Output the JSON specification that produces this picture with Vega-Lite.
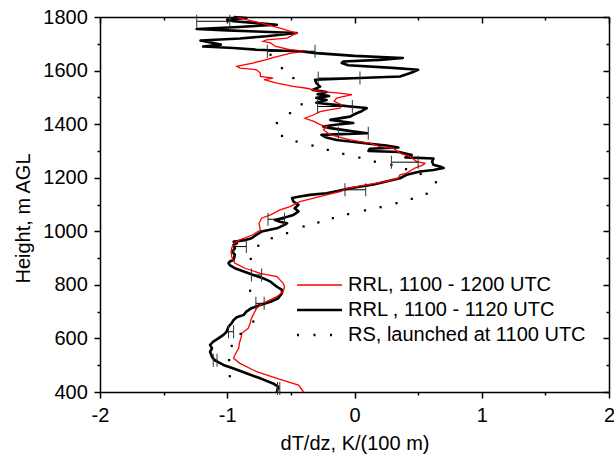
{
 "$schema": "https://vega.github.io/schema/vega-lite/v6.json",
 "width": 509,
 "height": 375,
 "autosize": {"type": "none"},
 "padding": {"left": 100, "top": 17, "right": 5, "bottom": 64},
 "config": {
  "font": "Liberation Sans",
  "view": {"stroke": null},
  "axis": {"grid": false, "domainColor": "#000", "tickColor": "#000", "labelColor": "#000", "titleColor": "#000", "domainWidth": 1.5, "tickWidth": 1.5, "labelFontSize": 20, "titleFontSize": 20, "titleFontWeight": "normal", "labelFont": "Liberation Sans", "titleFont": "Liberation Sans", "labelFlush": false, "labelOverlap": false, "labelBound": false}
 },
 "datasets": {
  "black": [
   {"h":400,"g":-0.61},{"h":420,"g":-0.60},{"h":432,"g":-0.64},{"h":451,"g":-0.74},{"h":470,"g":-0.85},{"h":488,"g":-0.95},{"h":501,"g":-1.03},{"h":519,"g":-1.10},{"h":532,"g":-1.12},{"h":550,"g":-1.135},{"h":563,"g":-1.12},{"h":576,"g":-1.135},{"h":588,"g":-1.11},{"h":600,"g":-1.07},{"h":613,"g":-1.03},{"h":625,"g":-1.005},{"h":644,"g":-0.99},{"h":657,"g":-0.965},{"h":669,"g":-0.95},{"h":679,"g":-0.925},{"h":688,"g":-0.87},{"h":700,"g":-0.85},{"h":713,"g":-0.81},{"h":725,"g":-0.74},{"h":737,"g":-0.66},{"h":750,"g":-0.60},{"h":769,"g":-0.57},{"h":781,"g":-0.57},{"h":793,"g":-0.61},{"h":812,"g":-0.66},{"h":825,"g":-0.72},{"h":837,"g":-0.795},{"h":850,"g":-0.87},{"h":862,"g":-0.94},{"h":874,"g":-0.98},{"h":881,"g":-0.99},{"h":887,"g":-0.98},{"h":893,"g":-0.95},{"h":912,"g":-0.94},{"h":924,"g":-0.96},{"h":937,"g":-0.94},{"h":949,"g":-0.95},{"h":955,"g":-0.925},{"h":961,"g":-0.95},{"h":968,"g":-0.85},{"h":974,"g":-0.81},{"h":987,"g":-0.77},{"h":999,"g":-0.73},{"h":1011,"g":-0.61},{"h":1024,"g":-0.55},{"h":1030,"g":-0.53},{"h":1036,"g":-0.585},{"h":1042,"g":-0.625},{"h":1055,"g":-0.52},{"h":1061,"g":-0.48},{"h":1074,"g":-0.44},{"h":1086,"g":-0.47},{"h":1099,"g":-0.44},{"h":1111,"g":-0.48},{"h":1124,"g":-0.49},{"h":1130,"g":-0.43},{"h":1136,"g":-0.35},{"h":1142,"g":-0.22},{"h":1152,"g":-0.114},{"h":1161,"g":-0.035},{"h":1167,"g":0.05},{"h":1175,"g":0.15},{"h":1186,"g":0.25},{"h":1198,"g":0.357},{"h":1211,"g":0.41},{"h":1223,"g":0.515},{"h":1229,"g":0.62},{"h":1236,"g":0.70},{"h":1242,"g":0.67},{"h":1248,"g":0.62},{"h":1260,"g":0.61},{"h":1272,"g":0.62},{"h":1276,"g":0.40},{"h":1285,"g":0.45},{"h":1296,"g":0.35},{"h":1300,"g":0.11},{"h":1308,"g":0.12},{"h":1313,"g":0.345},{"h":1320,"g":0.25},{"h":1328,"g":0.10},{"h":1335,"g":-0.035},{"h":1341,"g":-0.14},{"h":1350,"g":-0.22},{"h":1360,"g":-0.26},{"h":1366,"g":0.10},{"h":1372,"g":0.00},{"h":1385,"g":-0.19},{"h":1391,"g":-0.245},{"h":1398,"g":-0.15},{"h":1404,"g":-0.01},{"h":1410,"g":-0.10},{"h":1416,"g":-0.19},{"h":1428,"g":-0.035},{"h":1435,"g":-0.01},{"h":1447,"g":0.05},{"h":1460,"g":0.096},{"h":1466,"g":-0.035},{"h":1472,"g":-0.15},{"h":1480,"g":-0.30},{"h":1490,"g":-0.22},{"h":1498,"g":-0.30},{"h":1505,"g":-0.20},{"h":1512,"g":-0.29},{"h":1520,"g":-0.22},{"h":1528,"g":-0.33},{"h":1540,"g":-0.27},{"h":1553,"g":-0.30},{"h":1566,"g":-0.31},{"h":1572,"g":0.04},{"h":1578,"g":0.357},{"h":1591,"g":0.44},{"h":1603,"g":0.50},{"h":1610,"g":0.30},{"h":1620,"g":-0.05},{"h":1628,"g":-0.10},{"h":1634,"g":-0.09},{"h":1640,"g":0.20},{"h":1647,"g":0.38},{"h":1655,"g":0.00},{"h":1665,"g":-0.30},{"h":1672,"g":-0.43},{"h":1678,"g":-0.77},{"h":1684,"g":-0.95},{"h":1690,"g":-1.19},{"h":1697,"g":-1.05},{"h":1703,"g":-1.11},{"h":1712,"g":-1.21},{"h":1720,"g":-0.90},{"h":1728,"g":-0.69},{"h":1740,"g":-0.455},{"h":1746,"g":-0.77},{"h":1750,"g":-1.00},{"h":1755,"g":-1.24},{"h":1762,"g":-0.95},{"h":1771,"g":-0.61},{"h":1778,"g":-0.79},{"h":1784,"g":-0.95},{"h":1790,"g":-1.00},{"h":1796,"g":-0.85},{"h":1800,"g":-0.95}
  ],
  "red": [
   {"h":400,"g":-0.40},{"h":426,"g":-0.44},{"h":451,"g":-0.61},{"h":476,"g":-0.77},{"h":507,"g":-0.90},{"h":526,"g":-0.95},{"h":538,"g":-0.94},{"h":563,"g":-0.91},{"h":582,"g":-0.905},{"h":606,"g":-0.89},{"h":619,"g":-0.886},{"h":638,"g":-0.835},{"h":657,"g":-0.82},{"h":675,"g":-0.81},{"h":713,"g":-0.77},{"h":731,"g":-0.72},{"h":756,"g":-0.61},{"h":775,"g":-0.56},{"h":793,"g":-0.55},{"h":806,"g":-0.56},{"h":831,"g":-0.61},{"h":843,"g":-0.74},{"h":862,"g":-0.86},{"h":881,"g":-0.94},{"h":905,"g":-0.965},{"h":924,"g":-0.97},{"h":937,"g":-0.965},{"h":955,"g":-0.95},{"h":968,"g":-0.90},{"h":987,"g":-0.80},{"h":1005,"g":-0.74},{"h":1030,"g":-0.75},{"h":1049,"g":-0.73},{"h":1061,"g":-0.66},{"h":1080,"g":-0.585},{"h":1092,"g":-0.507},{"h":1111,"g":-0.43},{"h":1124,"g":-0.32},{"h":1136,"g":-0.22},{"h":1148,"g":-0.114},{"h":1161,"g":-0.05},{"h":1173,"g":0.096},{"h":1186,"g":0.253},{"h":1198,"g":0.344},{"h":1211,"g":0.357},{"h":1217,"g":0.41},{"h":1236,"g":0.475},{"h":1248,"g":0.54},{"h":1254,"g":0.554},{"h":1260,"g":0.489},{"h":1279,"g":0.436},{"h":1292,"g":0.357},{"h":1310,"g":0.305},{"h":1316,"g":0.2},{"h":1329,"g":0.12},{"h":1341,"g":-0.035},{"h":1354,"g":-0.14},{"h":1360,"g":-0.19},{"h":1379,"g":-0.245},{"h":1391,"g":-0.22},{"h":1398,"g":-0.27},{"h":1410,"g":-0.32},{"h":1422,"g":-0.39},{"h":1435,"g":-0.32},{"h":1447,"g":-0.27},{"h":1454,"g":-0.19},{"h":1460,"g":-0.114},{"h":1472,"g":-0.10},{"h":1485,"g":-0.16},{"h":1497,"g":-0.14},{"h":1510,"g":-0.02},{"h":1516,"g":-0.12},{"h":1522,"g":-0.27},{"h":1534,"g":-0.376},{"h":1541,"g":-0.48},{"h":1553,"g":-0.61},{"h":1566,"g":-0.71},{"h":1572,"g":-0.64},{"h":1578,"g":-0.74},{"h":1591,"g":-0.74},{"h":1603,"g":-0.77},{"h":1609,"g":-0.90},{"h":1616,"g":-0.925},{"h":1628,"g":-0.80},{"h":1640,"g":-0.70},{"h":1648,"g":-0.64},{"h":1665,"g":-0.50},{"h":1672,"g":-0.376},{"h":1678,"g":-0.507},{"h":1690,"g":-0.62},{"h":1703,"g":-0.66},{"h":1709,"g":-0.72},{"h":1715,"g":-0.69},{"h":1721,"g":-0.53},{"h":1740,"g":-0.455},{"h":1760,"g":-0.60},{"h":1778,"g":-0.74},{"h":1790,"g":-0.85},{"h":1798,"g":-0.92}
  ],
  "rs": [
   {"h":459,"g":-0.98},{"h":519,"g":-0.985},{"h":572,"g":-0.965},{"h":617,"g":-0.895},{"h":663,"g":-0.795},{"h":778,"g":-0.82},{"h":897,"g":-0.815},{"h":946,"g":-0.756},{"h":974,"g":-0.65},{"h":993,"g":-0.53},{"h":1018,"g":-0.40},{"h":1033,"g":-0.284},{"h":1049,"g":-0.17},{"h":1064,"g":-0.05},{"h":1078,"g":0.083},{"h":1090,"g":0.205},{"h":1105,"g":0.33},{"h":1121,"g":0.45},{"h":1140,"g":0.567},{"h":1183,"g":0.64},{"h":1214,"g":0.52},{"h":1232,"g":0.405},{"h":1248,"g":0.29},{"h":1260,"g":0.16},{"h":1275,"g":0.038},{"h":1289,"g":-0.088},{"h":1304,"g":-0.21},{"h":1320,"g":-0.33},{"h":1335,"g":-0.455},{"h":1356,"g":-0.57},{"h":1404,"g":-0.61},{"h":1441,"g":-0.507},{"h":1474,"g":-0.415},{"h":1572,"g":-0.48},{"h":1609,"g":-0.57},{"h":1659,"g":-0.66}
  ],
  "err": [
   {"h":1784,"lo":-1.24,"hi":-0.98},{"h":1672,"lo":-0.685,"hi":-0.31},{"h":1572,"lo":-0.285,"hi":0.043},{"h":1466,"lo":-0.29,"hi":-0.017},{"h":1366,"lo":-0.127,"hi":0.108},{"h":1258,"lo":0.29,"hi":0.50},{"h":1155,"lo":-0.075,"hi":0.088},{"h":1045,"lo":-0.68,"hi":-0.55},{"h":943,"lo":-0.95,"hi":-0.85},{"h":837,"lo":-0.81,"hi":-0.73},{"h":731,"lo":-0.775,"hi":-0.71},{"h":625,"lo":-0.99,"hi":-0.95},{"h":519,"lo":-1.11,"hi":-1.08},{"h":413,"lo":-0.605,"hi":-0.587}
  ]
 },
 "layer": [
  {
   "data": {"name": "black"},
   "mark": {"type": "line", "strokeWidth": 2.6, "strokeJoin": "round"},
   "encoding": {
    "x": {"field": "g", "type": "quantitative", "scale": {"domain": [-2, 2], "nice": false, "zero": false},
     "axis": {"orient": "bottom", "values": [-2, -1, 0, 1, 2], "tickSize": 6, "labelPadding": 7, "labelExpr": "'' + datum.value", "title": "dT/dz, K/(100 m)", "titleX": 254.5, "titleY": 41.5, "titleBaseline": "top", "titleAlign": "center", "titleAngle": 0}},
    "y": {"field": "h", "type": "quantitative", "scale": {"domain": [400, 1800], "nice": false, "zero": false},
     "axis": {"orient": "left", "values": [400, 600, 800, 1000, 1200, 1400, 1600, 1800], "tickSize": 6, "labelPadding": 6.7, "format": "d", "title": "Height, m AGL", "titleX": -66.5, "titleY": 201, "titleAngle": 270, "titleBaseline": "bottom", "titleAlign": "center"}},
    "order": {"field": "h", "type": "quantitative"},
    "color": {"datum": "RRL , 1100 - 1120 UTC", "type": "nominal",
     "scale": {"domain": ["RRL, 1100 - 1200 UTC", "RRL , 1100 - 1120 UTC", "RS, launched at 1100 UTC"], "range": ["#ff0000", "#000000", "#000000"]},
     "legend": {"orient": "none", "legendX": 209.5, "legendY": 258, "padding": 0, "rowPadding": 5, "title": null, "symbolType": "M-5,0H5", "symbolSize": 81, "symbolOffset": 0, "labelOffset": 18.5, "labelFontSize": 20, "labelFont": "Liberation Sans", "labelColor": "#000", "labelLimit": 400,
      "encode": {"symbols": {"update": {
       "strokeDash": {"signal": "datum.value === 'RS, launched at 1100 UTC' ? [2, 14.5] : [100, 0]"},
       "strokeWidth": {"signal": "datum.value === 'RRL, 1100 - 1200 UTC' ? 1.3 : 2.6"},
       "strokeCap": {"value": "butt"},
       "opacity": {"value": 1}
      }}}}}
   }
  },
  {
   "data": {"name": "red"},
   "mark": {"type": "line", "strokeWidth": 1.3},
   "encoding": {
    "x": {"field": "g", "type": "quantitative", "scale": {"domain": [-2, 2], "nice": false, "zero": false},
     "axis": {"orient": "bottom", "values": [-1.5, -0.5, 0.5, 1.5], "tickSize": 3, "labels": false, "domain": false, "title": null}},
    "y": {"field": "h", "type": "quantitative", "scale": {"domain": [400, 1800], "nice": false, "zero": false},
     "axis": {"orient": "left", "values": [500, 700, 900, 1100, 1300, 1500, 1700], "tickSize": 3, "labels": false, "domain": false, "title": null}},
    "order": {"field": "h", "type": "quantitative"},
    "color": {"datum": "RRL, 1100 - 1200 UTC", "type": "nominal"}
   }
  },
  {
   "data": {"name": "rs"},
   "mark": {"type": "square", "size": 5, "color": "#000", "opacity": 1, "filled": true},
   "encoding": {
    "x": {"field": "g", "type": "quantitative", "scale": {"domain": [-2, 2], "nice": false, "zero": false},
     "axis": {"orient": "top", "values": [-2, -1, 0, 1, 2], "tickSize": -6, "labels": false, "domain": true, "title": null}},
    "y": {"field": "h", "type": "quantitative", "scale": {"domain": [400, 1800], "nice": false, "zero": false},
     "axis": {"orient": "right", "values": [400, 600, 800, 1000, 1200, 1400, 1600, 1800], "tickSize": -6, "labels": false, "domain": true, "title": null}}
   }
  },
  {
   "data": {"name": "err"},
   "mark": {"type": "rule", "color": "#000", "strokeWidth": 1},
   "encoding": {
    "x": {"field": "lo", "type": "quantitative", "scale": {"domain": [-2, 2], "nice": false, "zero": false},
     "axis": {"orient": "top", "values": [-1.5, -0.5, 0.5, 1.5], "tickSize": -3, "labels": false, "domain": false, "title": null}},
    "x2": {"field": "hi"},
    "y": {"field": "h", "type": "quantitative", "scale": {"domain": [400, 1800], "nice": false, "zero": false},
     "axis": {"orient": "right", "values": [500, 700, 900, 1100, 1300, 1500, 1700], "tickSize": -3, "labels": false, "domain": false, "title": null}}
   }
  },
  {
   "data": {"name": "err"},
   "mark": {"type": "tick", "orient": "vertical", "size": 13, "thickness": 1, "color": "#333", "opacity": 1},
   "encoding": {
    "x": {"field": "lo", "type": "quantitative", "axis": null},
    "y": {"field": "h", "type": "quantitative", "axis": null}
   }
  },
  {
   "data": {"name": "err"},
   "mark": {"type": "tick", "orient": "vertical", "size": 13, "thickness": 1, "color": "#333", "opacity": 1},
   "encoding": {
    "x": {"field": "hi", "type": "quantitative", "axis": null},
    "y": {"field": "h", "type": "quantitative", "axis": null}
   }
  },
  {
   "mark": {"type": "rule", "color": "#000", "strokeWidth": 1.3, "strokeDash": [6.5, 5]},
   "encoding": {"y": {"datum": 1230, "type": "quantitative", "axis": null}}
  }
 ],
 "resolve": {"axis": {"x": "independent", "y": "independent"}}
}
